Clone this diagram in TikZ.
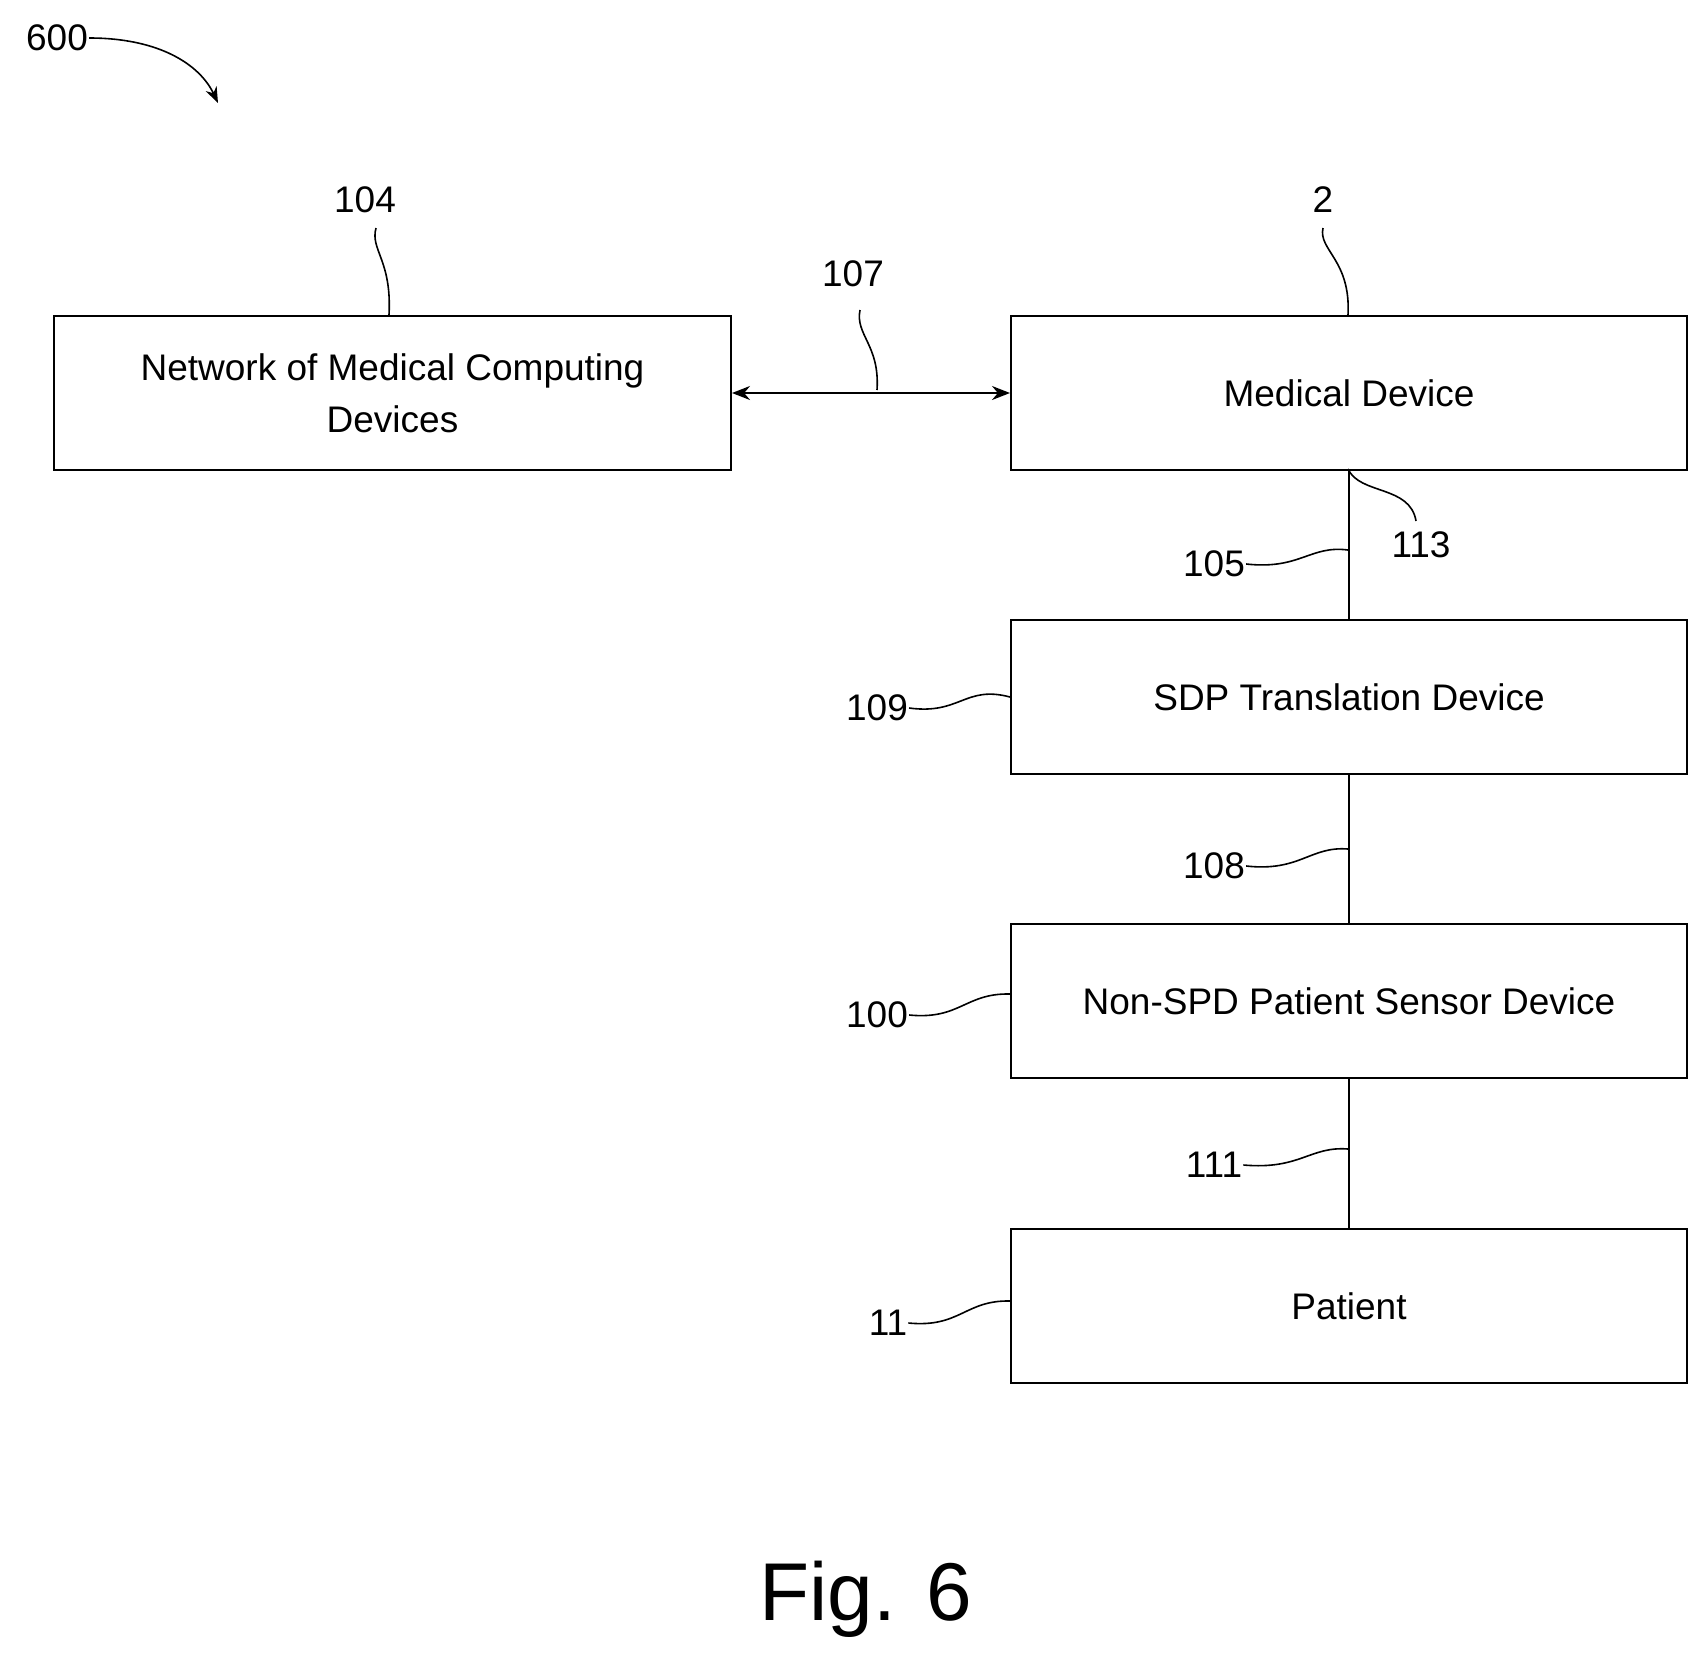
\documentclass[tikz,border=0pt]{standalone}
\usepackage{fontspec}
\setmainfont{Liberation Sans}
\usetikzlibrary{arrows.meta}
\begin{document}
\begin{tikzpicture}[x=1pt,y=-1pt,
  box/.style={draw,line width=2pt,minimum width=676pt,minimum height=154pt,inner sep=0pt,align=center,font=\fontsize{37}{52}\selectfont,anchor=north west},
  lbl/.style={font=\fontsize{37}{44}\selectfont,inner sep=1pt},
  ld/.style={line width=1.6pt},
  ln/.style={line width=2pt}]
\useasboundingbox (0,0) rectangle (1707,1665);
\node[box,minimum width=677pt] (net) at (53,315) {Network of Medical Computing\\Devices};
\node[box] (md) at (1010,315) {Medical Device};
\node[box] (sdp) at (1010,619) {SDP Translation Device};
\node[box] (ns) at (1010,923) {Non-SPD Patient Sensor Device};
\node[box] (pt) at (1010,1228) {Patient};
\draw[ln,{Stealth[length=18pt,width=14pt]}-{Stealth[length=18pt,width=14pt]}] (net.east) -- (md.west);
\draw[ln] (md.south) -- (sdp.north);
\draw[ln] (sdp.south) -- (ns.north);
\draw[ln] (ns.south) -- (pt.north);
\node[lbl] (l104) at (365,200) {104};
\draw[ld] (376,228) .. controls (370,250) and (392,260) .. (389,315);
\node[lbl] (l2) at (1323,200) {2};
\draw[ld] (1323,228) .. controls (1318,250) and (1351,260) .. (1348,315);
\node[lbl] (l107) at (853,274) {107};
\coordinate (c107) at (877,390);
\draw[ld] (860,310) .. controls (855,335) and (880,345) .. (c107);
\node[lbl] (l113) at (1421,545) {113};
\draw[ld] (1348,469) .. controls (1360,495) and (1410,485) .. (1416,521);
\node[lbl] (l105) at (1214,564) {105};
\draw[ld] (l105.east) .. controls (1300,570) and (1310,545) .. (1348,550);
\node[lbl] (l109) at (877,708) {109};
\draw[ld] (l109.east) .. controls (960,715) and (965,685) .. (sdp.west);
\node[lbl] (l108) at (1214,866) {108};
\draw[ld] (l108.east) .. controls (1300,872) and (1310,846) .. (1348,849);
\node[lbl] (l100) at (877,1015) {100};
\draw[ld] (l100.east) .. controls (960,1020) and (965,993) .. (1010,994);
\node[lbl] (l111) at (1214,1165) {111};
\draw[ld] (l111.east) .. controls (1300,1170) and (1310,1146) .. (1348,1149);
\node[lbl] (l11) at (888,1323) {11};
\draw[ld] (l11.east) .. controls (960,1328) and (965,1300) .. (1010,1301);
\node[lbl] (l600) at (57,38) {600};
\draw[ld,-{Stealth[length=16pt,width=12pt]}] (l600.east) .. controls (160,38) and (200,65) .. (218,103);
\node[font=\fontsize{82}{90}\selectfont] (fig) at (866,1599) {Fig. 6};
\end{tikzpicture}
\end{document}
